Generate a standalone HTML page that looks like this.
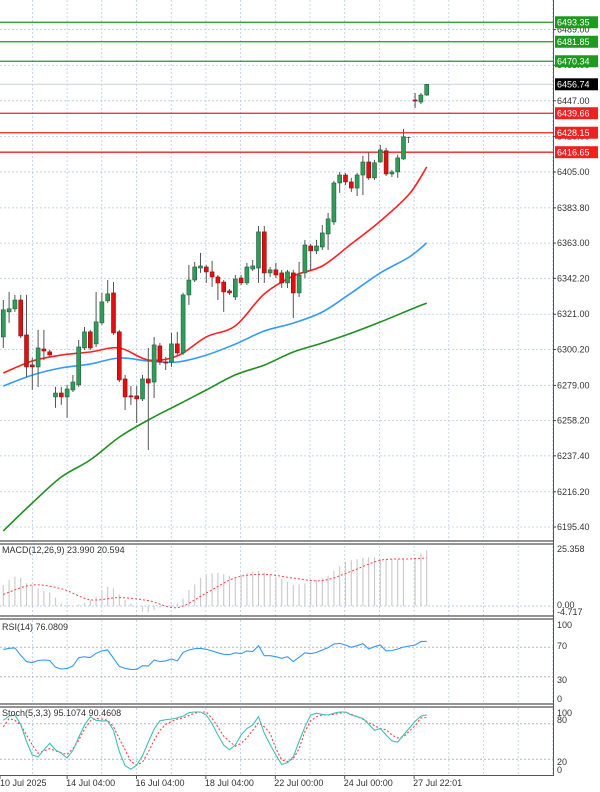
<!DOCTYPE html>
<html><head><meta charset="utf-8">
<style>
html,body{margin:0;padding:0;background:#fff;}
svg{display:block;font-family:"Liberation Sans",sans-serif;}
</style></head>
<body>
<svg id="chart" width="600" height="792" viewBox="0 0 600 792" xmlns="http://www.w3.org/2000/svg">
<rect x="0" y="0" width="600" height="792" fill="#fff"/>
<g id="grid"></g>
<g id="main"></g>
<g id="macd"></g>
<g id="rsi"></g>
<g id="stoch"></g>
<g id="frame"></g>
<g id="axis"></g>
</svg>
<script>
const opens=[6307.6,6322.4,6324.2,6329.4,6308.8,6291.1,6289.9,6300.5,6298.8,6272.2,6274.5,6272.2,6276.3,6279.3,6301.1,6310.6,6303.5,6315.9,6328.9,6333.6,6310.6,6282.8,6272.8,6272.8,6271.0,6282.8,6281.0,6302.3,6292.8,6292.8,6303.5,6298.2,6332.4,6341.2,6348.3,6348.9,6346.0,6343.0,6340.0,6334.8,6331.2,6342.4,6339.5,6347.7,6348.3,6369.6,6345.4,6347.2,6345.4,6339.5,6345.4,6333.6,6345.4,6361.3,6358.4,6360.7,6368.4,6375.5,6398.5,6403.2,6399.1,6395.5,6403.2,6410.9,6401.5,6410.9,6417.5,6403.8,6405.0,6412.7,null,6447.5,6446.3,6450.4];
const highs=[6329.4,6334.2,6332.4,6332.4,6332.4,6295.2,6311.8,6311.8,6299.9,6278.1,6278.1,6279.3,6285.2,6305.8,6313.5,6311.8,6334.2,6333.6,6341.2,6340.0,6311.8,6285.2,6278.7,6278.7,6285.2,6301.1,6307.6,6304.1,6295.8,6310.0,6310.6,6333.6,6350.1,6351.9,6357.2,6350.1,6352.5,6344.2,6341.2,6335.9,6344.2,6344.2,6351.3,6353.0,6373.1,6373.1,6348.9,6351.3,6347.2,6347.2,6347.2,6351.9,6364.9,6362.5,6364.9,6373.7,6380.8,6399.7,6405.0,6404.4,6401.5,6404.4,6414.5,6416.9,6412.1,6420.9,6419.2,6406.2,6415.1,6430.4,null,6451.6,6451.6,6456.9];
const lows=[6301.1,6315.9,6322.4,6307.0,6284.0,6276.3,6278.1,6294.0,6295.8,6265.7,6267.5,6259.8,6275.1,6278.1,6299.9,6299.9,6301.7,6314.7,6327.7,6308.8,6281.0,6264.5,6267.5,6256.8,6269.8,6240.9,6271.6,6291.1,6288.1,6289.9,6296.4,6297.0,6326.5,6340.0,6345.4,6339.5,6337.1,6329.4,6322.4,6332.4,6329.4,6338.3,6338.3,6346.6,6339.5,6339.5,6343.0,6342.4,6336.5,6336.5,6318.8,6331.2,6342.4,6347.2,6356.6,6359.0,6359.0,6373.7,6392.6,6397.3,6393.2,6390.8,6391.4,6400.3,6400.3,6410.4,6402.6,6402.0,6401.5,6412.1,null,6442.8,6445.1,6449.9];
const closes=[6323.6,6324.2,6329.4,6308.2,6289.9,6289.9,6301.1,6299.3,6297.0,6274.5,6272.2,6276.9,6281.0,6301.7,6310.6,6301.1,6316.5,6328.3,6333.0,6310.0,6282.2,6272.2,6272.2,6271.0,6282.8,6280.4,6302.9,6292.8,6292.2,6303.5,6298.2,6332.4,6341.2,6348.9,6349.5,6346.0,6343.0,6339.5,6334.2,6333.6,6341.8,6339.5,6348.9,6349.5,6369.6,6345.4,6347.2,6344.2,6339.5,6346.0,6333.6,6344.2,6361.9,6358.4,6361.3,6369.0,6377.3,6398.5,6403.2,6399.1,6395.5,6403.2,6410.9,6401.5,6410.4,6418.0,6403.8,6405.0,6413.3,6425.7,null,6446.9,6450.4,6456.7];
const maIdx=[0,5,10,15,20,25,30,35,40,45,50,55,60,65,70,73];
const ma20=[6286.3,6293.4,6296.9,6298.7,6301.1,6294.0,6296.4,6307.6,6314.1,6333.0,6343.6,6349.5,6362.5,6376.0,6392.0,6407.9];
const ma50=[6278.6,6285.1,6289.3,6291.6,6295.2,6293.4,6292.8,6296.9,6303.4,6311.1,6315.8,6322.3,6333.6,6345.4,6354.8,6363.1];
const ma100=[6193.1,6209.6,6224.9,6235.0,6248.5,6258.6,6267.4,6276.3,6285.2,6291.0,6298.7,6304.0,6309.9,6316.4,6323.5,6327.6];
const levelsGreen=[6493.35,6481.85,6470.34];
const levelsRed=[6439.66,6428.15,6416.65];
const lastPrice=6456.74;
const priceTicks=[6489.00,6468.00,6447.00,6426.00,6405.00,6383.80,6363.00,6342.20,6321.00,6300.20,6279.00,6258.20,6237.40,6216.20,6195.40];
const macdHist=[9.0,11.1,12.6,12.1,9.7,9.0,7.6,6.4,5.9,3.6,1.1,0.4,0.1,0.7,1.4,2.6,4.0,6.9,8.3,7.6,5.0,2.6,1.1,-0.3,-2.4,-2.7,-1.7,-0.7,0,0.4,1.1,3.3,6.9,9.3,12.1,13.6,14.0,14.3,13.6,13.0,12.6,13.3,14.0,14.7,15.1,14.4,13.6,12.6,11.6,10.4,9.0,9.3,9.7,10.4,11.1,11.9,13.0,15.0,17.1,19.0,19.7,20.1,20.7,20.9,20.9,20.1,20.1,20.1,20.1,20.1,null,20.7,22.5,24.0];
const macdSignal=[5.0,9.0,7.4,2.7,3.6,2.3,-0.7,5.6,12.1,13.6,12.0,10.9,14.9,19.6,20.2,20.6];
const rsiVals=[67,68.5,69,59,50.5,49,52,52.7,52,43,40.5,41.4,44.5,56,57,56,61.7,65,66.2,55,44,41.4,40,40,45,44.5,52.7,50.5,51.5,54,51.5,63,66.2,68,68.5,67,65,62.5,60.4,60,62.5,61.2,65,64,72,58.5,58.5,57.2,55,57.2,50.5,56.3,62.5,61.2,63,66.2,69.4,74.3,75.2,73,69.8,72,74.8,67.6,70.7,73,65,65.5,67.6,70.3,null,73,77.5,78];
const stochMain=[86,93,95,79,50,27,24,36,47,36,30,22,35,57,78,92,86,85,85,69,33,9,3,10,26,49,71,85,87,88,90,93,99,100,100,95,80,61,44,36,44,61,72,78,92,64,45,27,11,14,24,50,75,95,98,96,95,98,100,100,95,92,89,79,69,72,61,51,49,61,null,84,93,95.1];
const stochSig=[75,89,86,78,61,44,30,34,38,34,31,28,38,52,71,85,89,88,86,75,55,36,16,10,15,32,52,69,79,84,88,90,94,98,100,100,89,75,59,50,42,47,56,69,82,75,64,38,19,16,21,38,67,85,92,95,95,96,98,100,96,92,88,82,77,72,70,61,56,58,null,77,90,90.5];
const timeLabels=["10 Jul 2025","14 Jul 04:00","16 Jul 04:00","18 Jul 04:00","22 Jul 00:00","24 Jul 00:00","27 Jul 22:01"];

const NS="http://www.w3.org/2000/svg";
const xI=i=>3.3+5.8*i;
const yP=p=>(6506.5-p)/0.5903;
const yM=v=>606-v*2.33;
const yR=v=>699-v*0.74;
const yS=v=>771-v*0.59;
const RX=553;
const FS=9;
function mk(tag,attrs,parent){const e=document.createElementNS(NS,tag);for(const k in attrs)e.setAttribute(k,attrs[k]);parent.appendChild(e);return e;}
function smooth(pts){let d='M'+pts[0][0].toFixed(1)+','+pts[0][1].toFixed(1);
 for(let i=0;i<pts.length-1;i++){const p0=pts[i-1]||pts[i],p1=pts[i],p2=pts[i+1],p3=pts[i+2]||p2;
  const c1=[p1[0]+(p2[0]-p0[0])/6,p1[1]+(p2[1]-p0[1])/6],c2=[p2[0]-(p3[0]-p1[0])/6,p2[1]-(p3[1]-p1[1])/6];
  d+='C'+c1[0].toFixed(1)+','+c1[1].toFixed(1)+' '+c2[0].toFixed(1)+','+c2[1].toFixed(1)+' '+p2[0].toFixed(1)+','+p2[1].toFixed(1);}
 return d;}
const G=document.getElementById('grid'),M=document.getElementById('main'),MC=document.getElementById('macd'),R=document.getElementById('rsi'),S=document.getElementById('stoch'),F=document.getElementById('frame'),A=document.getElementById('axis');

for(let x=-2.3;x<RX;x+=34.7){if(x<1)continue;
 for(const [a,b] of [[0,541],[546,617],[620,704],[708,775]]){
  const l=mk('line',{x1:x,x2:x,y1:a,y2:b,stroke:'#b8cce4','stroke-width':0.8,'stroke-dasharray':'2,2'},G);
  
  
 }}
priceTicks.forEach(p=>{const y=yP(p);
 const l=mk('line',{x1:0,x2:RX,y1:y,y2:y,stroke:'#b8cce4','stroke-width':0.8,'stroke-dasharray':'2,2'},G);
 
 
 mk('line',{x1:RX,x2:RX+3,y1:y,y2:y,stroke:'#444'},A);
 const t=mk('text',{x:557,y:y+3,'font-size':FS,fill:'#333'},A);t.textContent=p.toFixed(2);
 
 
});
mk('line',{x1:0,x2:RX,y1:yP(lastPrice),y2:yP(lastPrice),stroke:'#c8d0dc','stroke-width':1},M);
function level(p,col,name){const y=yP(p);
 const l=mk('line',{x1:0,x2:RX,y1:y,y2:y,stroke:col,'stroke-width':1.3},M);
 
 
 const b=mk('rect',{x:555,y:y-6,width:43,height:12,fill:col},A);
 
 
 const t=mk('text',{x:557,y:y+3.2,'font-size':FS,fill:'#fff'},A);t.textContent=p.toFixed(2);
 
 
}
levelsGreen.forEach(p=>level(p,'#1e9a1e','resistance-level'));
levelsRed.forEach(p=>level(p,'#f02020','support-level'));
{const y=yP(lastPrice);const b=mk('rect',{x:555,y:y-6,width:43,height:12,fill:'#000'},A);
 
 
 const t=mk('text',{x:557,y:y+3.2,'font-size':FS,fill:'#fff'},A);t.textContent=lastPrice.toFixed(2);
 
 }

function maLine(vals,col,name){const pts=maIdx.map((ix,k)=>[xI(ix),yP(vals[k])]);
 const l=mk('path',{d:smooth(pts),fill:'none',stroke:col,'stroke-width':1.6,'stroke-linejoin':'round'},M);
 
 }
maLine(ma100,'#1f8f1f','moving-average-100');
maLine(ma50,'#3399ff','moving-average-50');
maLine(ma20,'#ff2020','moving-average-20');

opens.forEach((o,i)=>{if(o===null)return;const c=closes[i],x=xI(i);const up=c>=o;
 const w=mk('line',{x1:x,x2:x,y1:yP(highs[i]),y2:yP(lows[i]),stroke:'#555','stroke-width':1},M);
 
 
 const top=yP(Math.max(o,c)),h=Math.max(1,yP(Math.min(o,c))-top);
 const r=mk('rect',{x:x-2,y:top,width:4,height:h,fill:up?'#2f9c5a':'#e01010',stroke:up?'#225f3a':'#8a1010','stroke-width':0.6},M);
 
 
});
{const t=mk('text',{x:406,y:143,'font-size':8,fill:'#333'},M);t.textContent='T';
 
 }

macdHist.forEach((v,i)=>{if(v===null)return;const x=xI(i);
 const b=mk('line',{x1:x,x2:x,y1:yM(0),y2:yM(v),stroke:'#cccccc','stroke-width':1.2},MC);
 
 });
{const pts=maIdx.map((ix,k)=>[xI(ix),yM(macdSignal[k])]);
 const l=mk('path',{d:smooth(pts),fill:'none',stroke:'#ff4040','stroke-width':1,'stroke-dasharray':'2,2'},MC);
 
 }
mk('line',{x1:0,x2:RX,y1:yM(0),y2:yM(0),stroke:'#b8cce4','stroke-dasharray':'2,2'},MC);
function lbl(parent,x,y,txt,name,size){const t=mk('text',{x:x,y:y,'font-size':size||FS,fill:'#333'},parent);t.textContent=txt;
 
 return t;}
lbl(MC,2,553,'MACD(12,26,9) 23.990 20.594','macd-title');
lbl(MC,557,552,'25.358','macd-max-label');
lbl(MC,557,608,'0.00','macd-zero-label');
lbl(MC,557,615,'-4.717','macd-min-label');

[70,30].forEach(v=>{mk('line',{x1:0,x2:RX,y1:yR(v),y2:yR(v),stroke:'#aaa','stroke-dasharray':'2,2','stroke-width':0.8},R);});
function series(vals,parent,yf,col,dash,name){let d='';let pen=false;vals.forEach((v,i)=>{if(v===null){return;}d+=(pen?'L':'M')+xI(i).toFixed(1)+','+yf(v).toFixed(1);pen=true;});
 const p=mk('path',{d:d,fill:'none',stroke:col,'stroke-width':1.1},parent);if(dash)p.setAttribute('stroke-dasharray',dash);
 
 }
series(rsiVals,R,yR,'#3399ff',null,'rsi-line');
lbl(R,2,630,'RSI(14) 76.0809','rsi-title');
lbl(R,557,628,'100','rsi-100-label');
lbl(R,557,649,'70','rsi-70-label');
lbl(R,557,683,'30','rsi-30-label');
lbl(R,557,702,'0','rsi-0-label');

[80,20].forEach(v=>{mk('line',{x1:0,x2:RX,y1:yS(v),y2:yS(v),stroke:'#aaa','stroke-dasharray':'2,2','stroke-width':0.8},S);});
series(stochSig,S,yS,'#ff4040','2,2','stoch-signal-line');
series(stochMain,S,yS,'#40c0b8',null,'stoch-main-line');
lbl(S,2,716,'Stoch(5,3,3) 95.1074 90.4608','stoch-title');
lbl(S,557,716,'100','stoch-100-label');
lbl(S,557,723,'80','stoch-80-label');
lbl(S,557,765,'20','stoch-20-label');
lbl(S,557,773,'0','stoch-0-label');

[[541,544],[616,619],[704,707]].forEach(([a,b])=>{
 mk('line',{x1:0,x2:RX,y1:a,y2:a,stroke:'#555','stroke-width':1.2},F);
 mk('line',{x1:0,x2:RX,y1:b,y2:b,stroke:'#555','stroke-width':1.2},F);});
mk('line',{x1:0,x2:RX,y1:775.5,y2:775.5,stroke:'#555','stroke-width':1},F);
mk('line',{x1:RX+0.5,x2:RX+0.5,y1:0,y2:776,stroke:'#555','stroke-width':1},F);

const tickX=[0,67.1,136.5,205.9,275.3,344.7,414.1];
timeLabels.forEach((t,k)=>{
 mk('line',{x1:tickX[k],x2:tickX[k],y1:776,y2:779,stroke:'#555'},F);
 lbl(F,k===0?0:tickX[k]-1,786,t,'time-label');
});
</script>
</body></html>
